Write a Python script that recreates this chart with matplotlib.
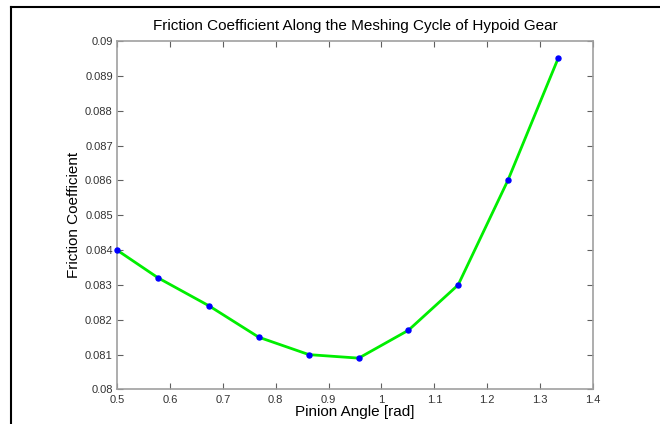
import matplotlib
matplotlib.use("Agg")
from matplotlib import pyplot as plt
from matplotlib.lines import Line2D

plt.rcParams["font.family"] = ["Liberation Sans", "DejaVu Sans"]

# pinion angle [rad] and friction coefficient
angle = [0.5, 0.578, 0.674, 0.768, 0.863, 0.957, 1.051, 1.145, 1.239, 1.334]
friction = [0.0840, 0.0832, 0.0824, 0.0815, 0.0810, 0.0809, 0.0817, 0.0830, 0.0860, 0.0895]

xticks = [0.5, 0.6, 0.7, 0.8, 0.9, 1, 1.1, 1.2, 1.3, 1.4]
xtick_labels = ["0.5", "0.6", "0.7", "0.8", "0.9", "1", "1.1", "1.2", "1.3", "1.4"]
yticks = [0.080, 0.081, 0.082, 0.083, 0.084, 0.085, 0.086, 0.087, 0.088, 0.089, 0.090]
ytick_labels = ["0.08", "0.081", "0.082", "0.083", "0.084", "0.085",
                "0.086", "0.087", "0.088", "0.089", "0.09"]

fig = plt.figure(figsize=(6.6, 4.24), dpi=100)
ax = fig.add_axes([0.1773, 0.0814, 0.7212, 0.8219])

ax.plot(angle, friction, color="#00ee00", linewidth=2, zorder=2)
ax.plot(angle, friction, "o", color="#0000ff", markersize=3.6, zorder=3,
        clip_on=False)

ax.set_xlim(0.5, 1.4)
ax.set_ylim(0.08, 0.09)
ax.set_xticks(xticks)
ax.set_xticklabels(xtick_labels)
ax.set_yticks(yticks)
ax.set_yticklabels(ytick_labels)

for s in ax.spines.values():
    s.set_color("#a0a0a0")
    s.set_linewidth(1.2)
ax.tick_params(direction="in", length=4, width=0.8, color="#606060",
               labelsize=8, labelcolor="#333333", top=True, right=True)
ax.tick_params(axis="x", pad=4)
ax.tick_params(axis="y", pad=3)

ax.set_title("Friction Coefficient Along the Meshing Cycle of Hypoid Gear",
             fontsize=11, pad=8)
ax.set_xlabel("Pinion Angle [rad]", fontsize=11, labelpad=0)
ax.set_ylabel("Friction Coefficient", fontsize=11, labelpad=3)

# black frame on the left and top edges of the picture
fig.add_artist(Line2D([0.0167, 0.0167], [0.0, 0.983], color="black", linewidth=1.5))
fig.add_artist(Line2D([0.0167, 1.0], [0.983, 0.983], color="black", linewidth=1.5))

fig.savefig("out.png", dpi=100)
